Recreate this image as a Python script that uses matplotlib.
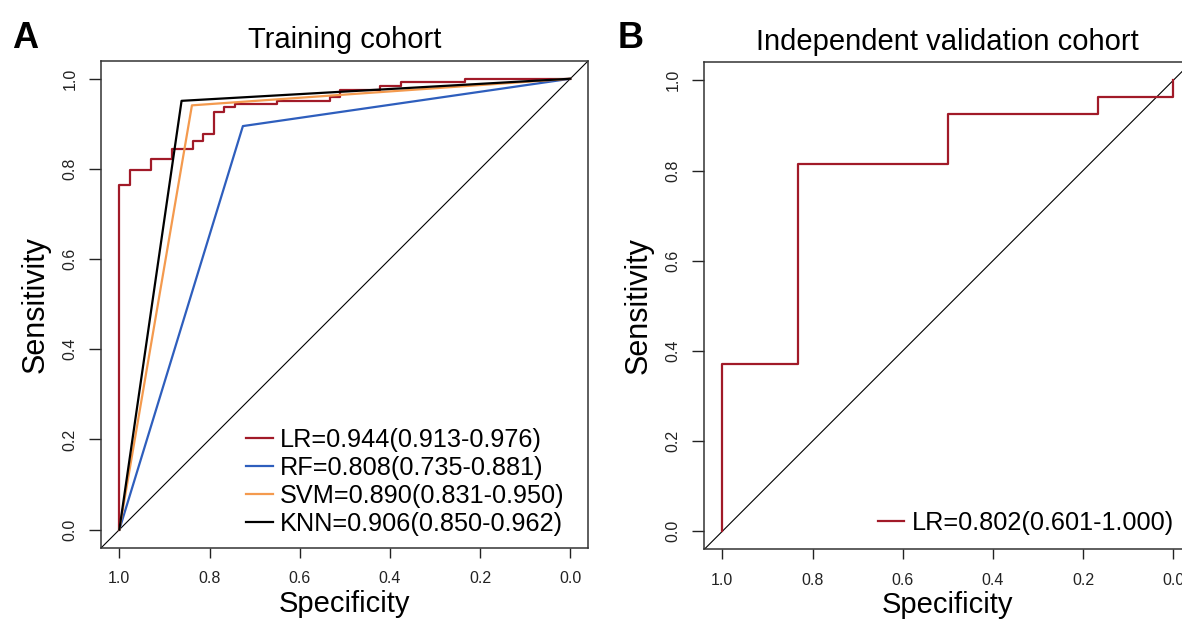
import matplotlib
matplotlib.use('Agg')
from matplotlib import pyplot as plt

plt.rcParams['font.family'] = ['Liberation Sans', 'DejaVu Sans']

# training cohort, LR step curve (specificity, sensitivity)
lr_spec = [1.0, 1.0, 0.976, 0.976, 0.930, 0.930, 0.883, 0.883, 0.837, 0.837,
           0.815, 0.815, 0.789, 0.789, 0.768, 0.768, 0.743, 0.743, 0.651, 0.651,
           0.533, 0.533, 0.511, 0.511, 0.421, 0.421, 0.375, 0.375, 0.234, 0.234, 0.0]
lr_sens = [0.0, 0.764, 0.764, 0.798, 0.798, 0.821, 0.821, 0.844, 0.844, 0.863,
           0.863, 0.878, 0.878, 0.927, 0.927, 0.937, 0.937, 0.944, 0.944, 0.950,
           0.950, 0.959, 0.959, 0.974, 0.974, 0.984, 0.984, 0.992, 0.992, 1.0, 1.0]
rf_spec = [1.0, 0.726, 0.0]
rf_sens = [0.0, 0.895, 1.0]
svm_spec = [1.0, 0.839, 0.0]
svm_sens = [0.0, 0.941, 1.0]
knn_spec = [1.0, 0.862, 0.0]
knn_sens = [0.0, 0.951, 1.0]
train_labels = ['LR=0.944(0.913-0.976)', 'RF=0.808(0.735-0.881)',
                'SVM=0.890(0.831-0.950)', 'KNN=0.906(0.850-0.962)']

# validation cohort, LR
val_spec = [1.0, 1.0, 0.833, 0.833, 0.5, 0.5, 0.167, 0.167, 0.0, 0.0]
val_sens = [0.0, 0.370, 0.370, 0.815, 0.815, 0.926, 0.926, 0.963, 0.963, 1.0]
val_label = 'LR=0.802(0.601-1.000)'

red = '#A11A28'
blue = '#2E5EBD'
orange = '#F49A4E'

fig = plt.figure(figsize=(11.82, 6.2), dpi=100)
W, H = 1182, 620
axA = fig.add_axes([101.3 / W, (H - 547.7) / H, 487 / W, 487 / H])
axB = fig.add_axes([704.3 / W, (H - 549.3) / H, 487 / W, 487 / H])


def style(ax, title):
    ax.set_xlim(1.04, -0.04)
    ax.set_ylim(-0.04, 1.04)
    ax.axline((1, 0), (0, 1), color='black', lw=0.8, zorder=1)
    ticks = [0.0, 0.2, 0.4, 0.6, 0.8, 1.0]
    ax.set_xticks(ticks)
    ax.set_yticks(ticks)
    ax.set_xticklabels([f'{t:.1f}' for t in ticks], fontsize=11.5)
    ax.set_yticklabels([f'{t:.1f}' for t in ticks], fontsize=11.5,
                       rotation=90, va='center')
    ax.tick_params(axis='x', length=7, width=1, pad=10, colors='#222222')
    ax.tick_params(axis='y', length=9, width=1, pad=8, colors='#222222')
    for s in ax.spines.values():
        s.set_linewidth(1.1)
        s.set_color('#333333')
    ax.set_xlabel('Specificity', fontsize=21, labelpad=2.5)
    ax.set_ylabel('Sensitivity', fontsize=22, labelpad=9)
    ax.set_title(title, fontsize=21, pad=9)


style(axA, 'Training cohort')
axA.plot(lr_spec, lr_sens, color=red, lw=1.6, label=train_labels[0])
axA.plot(rf_spec, rf_sens, color=blue, lw=1.6, label=train_labels[1])
axA.plot(svm_spec, svm_sens, color=orange, lw=1.6, label=train_labels[2])
axA.plot(knn_spec, knn_sens, color='black', lw=1.6, label=train_labels[3])
axA.legend(loc='lower right', bbox_to_anchor=(0.952, 0.025), frameon=False,
           fontsize=18.2, handlelength=1.05, handletextpad=0.3,
           labelspacing=0.15, borderpad=0, borderaxespad=0)

style(axB, 'Independent validation cohort')
axB.plot(val_spec, val_sens, color=red, lw=1.6, label=val_label)
axB.legend(loc='lower right', bbox_to_anchor=(0.965, 0.03), frameon=False,
           fontsize=18.2, handlelength=1.05, handletextpad=0.3,
           borderpad=0, borderaxespad=0)

fig.text(12 / W, 1 - 48 / H, 'A', fontsize=26, fontweight='bold')
fig.text(618 / W, 1 - 48 / H, 'B', fontsize=26, fontweight='bold')

plt.savefig('out.png', dpi=100)
